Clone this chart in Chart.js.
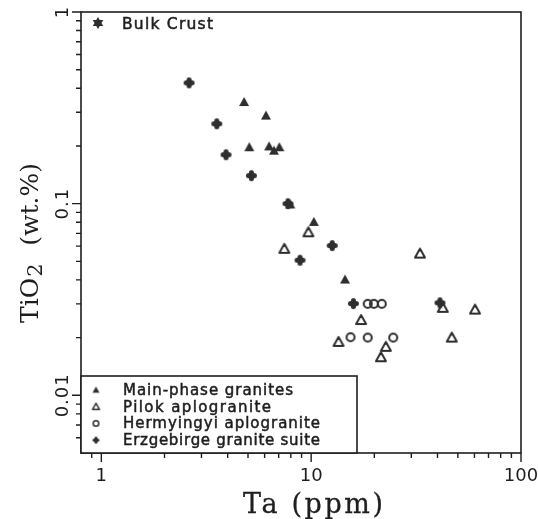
<!DOCTYPE html>
<html>
<head>
<meta charset="utf-8">
<script src="https://cdn.jsdelivr.net/npm/chart.js@4.4.1/dist/chart.umd.min.js"></script>
<style>
  html, body { margin: 0; padding: 0; background: #fff; }
  #wrap { width: 538px; height: 519px; }
</style>
</head>
<body>
<div id="wrap"><canvas id="chart"></canvas></div>
<script>
// Ta (ppm) vs TiO2 (wt.%)
const mainPhaseTa = [4.79, 6.09, 5.07, 6.3, 6.65, 7.05, 7.95, 10.3, 14.5];
const mainPhaseTiO2 = [0.339, 0.288, 0.197, 0.199, 0.189, 0.197, 0.099, 0.0803, 0.0402];

const pilokTa = [7.45, 9.7, 13.5, 17.3, 21.5, 22.7, 33.0, 42.4, 46.8, 60.4];
const pilokTiO2 = [0.0581, 0.0709, 0.019, 0.0247, 0.0158, 0.0179, 0.0549, 0.0286, 0.02, 0.028];

const hermyingyiTa = [15.4, 18.6, 18.6, 19.9, 21.7, 24.6];
const hermyingyiTiO2 = [0.0201, 0.02, 0.03, 0.03, 0.03, 0.02];

const erzgebirgeTa = [2.62, 3.55, 3.93, 5.19, 7.75, 8.85, 12.6, 15.9, 41.1];
const erzgebirgeTiO2 = [0.427, 0.261, 0.18, 0.14, 0.1, 0.0507, 0.0604, 0.0301, 0.0304];

const legendLabels = ["Main-phase granites", "Pilok aplogranite", "Hermyingyi aplogranite", "Erzgebirge granite suite"];
const bulkCrustLabel = "Bulk Crust";

const xMajorTicks = [1, 10, 100];
const xMinorTicks = [0.9, 2, 3, 4, 5, 6, 7, 8, 9, 20, 30, 40, 50, 60, 70, 80, 90];
const xTickLabels = ["1", "10", "100"];
const yMajorTicks = [0.01, 0.1, 1];
const yMinorTicks = [0.006, 0.007, 0.008, 0.009, 0.02, 0.03, 0.04, 0.05, 0.06, 0.07, 0.08, 0.09,
  0.2, 0.3, 0.4, 0.5, 0.6, 0.7, 0.8, 0.9];
const yTickLabels = ["0.01", "0.1", "1"];

const ink = "#1e1e1e";
const markInk = "#2e2e2e";

function toPoints(xs, ys) {
  return xs.map((x, i) => ({ x: x, y: ys[i] }));
}

function makeMarker(kind, size) {
  const c = document.createElement("canvas");
  const s = Math.ceil(size + 4);
  c.width = s;
  c.height = s;
  const g = c.getContext("2d");
  const m = s / 2;
  const h = size / 2;
  g.fillStyle = markInk;
  g.strokeStyle = markInk;
  g.lineJoin = "round";
  if (kind === "tri" || kind === "openTri") {
    g.beginPath();
    g.moveTo(m, m - h);
    g.lineTo(m + h, m + h * 0.8);
    g.lineTo(m - h, m + h * 0.8);
    g.closePath();
    if (kind === "tri") {
      g.fill();
    } else {
      g.lineWidth = Math.max(1.5, size / 5);
      g.stroke();
    }
  } else if (kind === "circle") {
    g.beginPath();
    g.arc(m, m, h * 0.8, 0, Math.PI * 2);
    g.lineWidth = Math.max(1.5, size / 5);
    g.stroke();
  } else if (kind === "plus") {
    const w = size * 0.23;
    g.lineWidth = w * 2;
    g.lineCap = "round";
    g.beginPath();
    g.moveTo(m - h + w, m);
    g.lineTo(m + h - w, m);
    g.moveTo(m, m - h + w);
    g.lineTo(m, m + h - w);
    g.stroke();
  } else if (kind === "star") {
    g.beginPath();
    for (let i = 0; i < 12; i++) {
      const r = i % 2 === 0 ? h : h * 0.58;
      const a = -Math.PI / 2 + (i * Math.PI) / 6;
      const px = m + r * Math.cos(a);
      const py = m + r * Math.sin(a);
      if (i === 0) g.moveTo(px, py);
      else g.lineTo(px, py);
    }
    g.closePath();
    g.fill();
  }
  return c;
}

const plotMarkers = [makeMarker("tri", 10), makeMarker("openTri", 10), makeMarker("circle", 10), makeMarker("plus", 11)];
const legendMarkers = [makeMarker("tri", 7), makeMarker("openTri", 7), makeMarker("circle", 7), makeMarker("plus", 7)];
const starMarker = makeMarker("star", 12);

function fitText(ctx, text, x, y, width) {
  ctx.letterSpacing = "0px";
  const base = ctx.measureText(text).width;
  const ls = text.length > 1 ? (width - base) / (text.length - 1) : 0;
  ctx.letterSpacing = ls + "px";
  ctx.textAlign = "left";
  ctx.fillText(text, x, y);
  ctx.strokeText(text, x, y);
  ctx.letterSpacing = "0px";
}

const decorations = {
  id: "decorations",
  afterDraw(chart) {
    const ctx = chart.ctx;
    const area = chart.chartArea;
    const xs = chart.scales.x;
    const ys = chart.scales.y;
    ctx.save();
    ctx.strokeStyle = ink;
    ctx.fillStyle = ink;
    ctx.lineWidth = 1.6;
    ctx.strokeRect(area.left, area.top, area.right - area.left, area.bottom - area.top);

    // ticks
    ctx.lineWidth = 1.4;
    ctx.beginPath();
    xMajorTicks.forEach((v) => {
      const p = xs.getPixelForValue(v);
      ctx.moveTo(p, area.bottom);
      ctx.lineTo(p, area.bottom + 9);
    });
    xMinorTicks.forEach((v) => {
      const p = xs.getPixelForValue(v);
      ctx.moveTo(p, area.bottom);
      ctx.lineTo(p, area.bottom + 5);
    });
    yMajorTicks.forEach((v) => {
      const p = ys.getPixelForValue(v);
      ctx.moveTo(area.left, p);
      ctx.lineTo(area.left - 9, p);
    });
    yMinorTicks.forEach((v) => {
      const p = ys.getPixelForValue(v);
      ctx.moveTo(area.left, p);
      ctx.lineTo(area.left - 5, p);
    });
    ctx.stroke();

    // tick labels
    ctx.lineWidth = 0.4;
    ctx.font = "18px 'DejaVu Sans'";
    ctx.textBaseline = "middle";
    ctx.textAlign = "center";
    xMajorTicks.forEach((v, i) => {
      ctx.fillText(xTickLabels[i], xs.getPixelForValue(v), area.bottom + 23);
    });
    yMajorTicks.forEach((v, i) => {
      ctx.save();
      ctx.translate(area.left - 18, ys.getPixelForValue(v));
      ctx.rotate(-Math.PI / 2);
      ctx.letterSpacing = "1px";
      ctx.fillText(yTickLabels[i], 0, 0);
      ctx.restore();
    });

    // axis titles
    ctx.textBaseline = "alphabetic";
    ctx.lineWidth = 0.3;
    ctx.font = "27px 'DejaVu Serif'";
    fitText(ctx, "Ta (ppm)", 243, 513, 140);

    ctx.save();
    ctx.translate(38, 243);
    ctx.rotate(-Math.PI / 2);
    ctx.font = "25px 'DejaVu Serif'";
    ctx.textAlign = "left";
    const startX = -80;
    ctx.fillText("TiO", startX, 0);
    const w1 = ctx.measureText("TiO").width;
    ctx.font = "21px 'DejaVu Serif'";
    ctx.fillText("2", startX + w1 + 1, 4);
    ctx.font = "25px 'DejaVu Serif'";
    const w2 = ctx.measureText("(wt.%)").width;
    ctx.fillText("(wt.%)", 80 - w2, 0);
    ctx.restore();

    // bulk crust key
    ctx.drawImage(starMarker, 98 - starMarker.width / 2, 23 - starMarker.height / 2);
    ctx.lineWidth = 0.5;
    ctx.font = "15.5px 'DejaVu Sans'";
    fitText(ctx, bulkCrustLabel, 122, 29, 91);

    // legend box
    const boxRight = 357;
    const boxTop = 376;
    ctx.fillStyle = "#fff";
    ctx.fillRect(area.left, boxTop, boxRight - area.left, area.bottom - boxTop);
    ctx.fillStyle = ink;
    ctx.lineWidth = 1.6;
    ctx.strokeRect(area.left, boxTop, boxRight - area.left, area.bottom - boxTop);
    ctx.font = "15px 'DejaVu Sans'";
    ctx.lineWidth = 0.5;
    const widths = [170, 148, 197, 197];
    legendLabels.forEach((label, i) => {
      const cy = 390 + i * 16.7;
      const mk = legendMarkers[i];
      ctx.drawImage(mk, 96 - mk.width / 2, cy - mk.height / 2);
      fitText(ctx, label, 123, cy + 5, widths[i]);
    });
    ctx.restore();
  },
};

new Chart(document.getElementById("chart"), {
  type: "scatter",
  data: {
    datasets: [
      { label: legendLabels[3], data: toPoints(erzgebirgeTa, erzgebirgeTiO2), pointStyle: plotMarkers[3] },
      { label: legendLabels[0], data: toPoints(mainPhaseTa, mainPhaseTiO2), pointStyle: plotMarkers[0] },
      { label: legendLabels[1], data: toPoints(pilokTa, pilokTiO2), pointStyle: plotMarkers[1] },
      { label: legendLabels[2], data: toPoints(hermyingyiTa, hermyingyiTiO2), pointStyle: plotMarkers[2] },
    ],
  },
  options: {
    responsive: true,
    maintainAspectRatio: false,
    animation: false,
    layout: { padding: { top: 12, right: 17, left: 0, bottom: 0 } },
    plugins: { legend: { display: false }, tooltip: { enabled: false } },
    scales: {
      x: {
        type: "logarithmic",
        min: 0.8,
        max: 100,
        grid: { display: false },
        border: { display: false },
        ticks: { display: false },
        afterFit: (scale) => { scale.height = 66; },
      },
      y: {
        type: "logarithmic",
        min: 0.005,
        max: 1,
        grid: { display: false },
        border: { display: false },
        ticks: { display: false },
        afterFit: (scale) => { scale.width = 81; },
      },
    },
  },
  plugins: [decorations],
});
</script>
</body>
</html>
